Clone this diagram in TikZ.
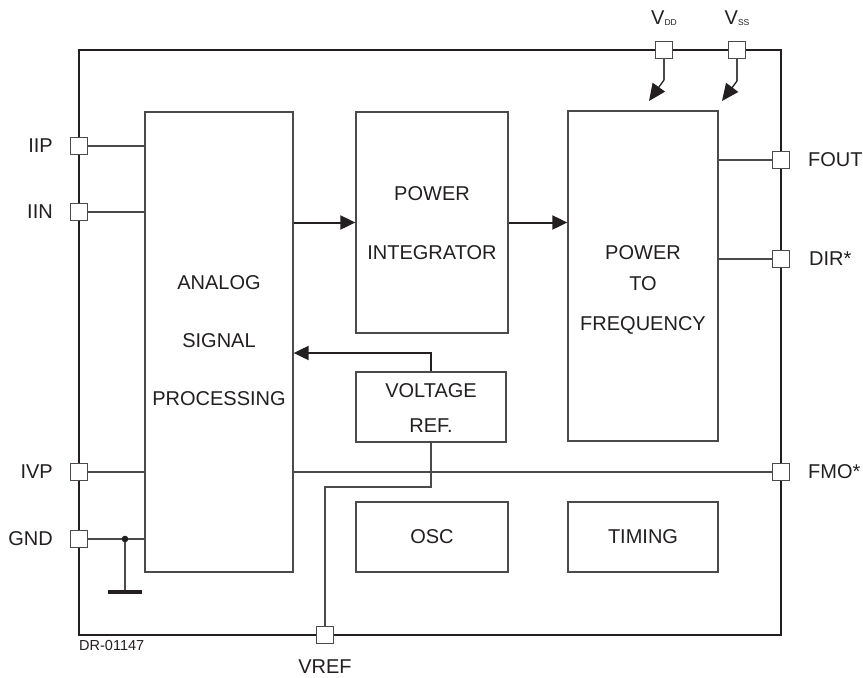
\documentclass[tikz,border=0pt]{standalone}
\usepackage{fontspec}
\setmainfont{Liberation Sans}
\usetikzlibrary{arrows.meta}
\definecolor{frame}{HTML}{231F20}
\definecolor{ln}{HTML}{4A4A4A}
\begin{document}
\begin{tikzpicture}[x=1pt,y=-1pt,
  blk/.style={draw=ln, line width=1.3pt, fill=white, inner sep=0pt},
  pin/.style={draw=ln, line width=1pt, fill=white, minimum size=17pt, inner sep=0pt},
  wire/.style={draw=ln, line width=1.3pt},
  arr/.style={draw=frame, line width=2pt, -{Triangle[length=15pt,width=14pt]}},
  txt/.style={font=\fontsize{20}{24}\selectfont, inner sep=0pt, text=frame},
  small/.style={font=\fontsize{14.5}{17}\selectfont, inner sep=0pt, text=frame}
]
\useasboundingbox (0,0) rectangle (863,678);
\fill[white] (0,0) rectangle (863,678);

% outer frame
\draw[frame, line width=2.4pt] (79,50) rectangle (781,635);

% blocks
\node[blk, minimum width=148pt, minimum height=460pt] (asp) at (219,342) {};
\node[blk, minimum width=152pt, minimum height=221pt] (pi) at (432,222.5) {};
\node[blk, minimum width=150pt, minimum height=330pt] (ptf) at (643,276) {};
\node[blk, minimum width=150pt, minimum height=70pt] (vr) at (431,407) {};
\node[blk, minimum width=152pt, minimum height=70pt] (osc) at (432,537) {};
\node[blk, minimum width=150pt, minimum height=70pt] (tim) at (643,537) {};

% block texts
\node[txt] (t1) at (219,283) {ANALOG};
\node[txt] (t2) at (219,341) {SIGNAL};
\node[txt] (t3) at (219,399) {PROCESSING};
\node[txt] (t4) at (432,194) {POWER};
\node[txt] (t5) at (432,253) {INTEGRATOR};
\node[txt] (t6) at (643,253) {POWER};
\node[txt] (t7) at (643,284) {TO};
\node[txt] (t8) at (643,325) {FREQUENCY};
\node[txt] (t9) at (431,391) {VOLTAGE};
\node[txt] (t10) at (431,426) {REF.};
\node[txt] (t11) at (432,537) {OSC};
\node[txt] (t12) at (643,537) {TIMING};

% pins
\node[pin] (iip) at (79,146) {};
\node[pin] (iin) at (79,212) {};
\node[pin] (ivp) at (79,472) {};
\node[pin] (gnd) at (79,539) {};
\node[pin] (fout) at (781,160) {};
\node[pin] (dir) at (781,259) {};
\node[pin] (fmo) at (781,472) {};
\node[pin] (vdd) at (664,50) {};
\node[pin] (vss) at (737,50) {};
\node[pin] (vref) at (325,635) {};

% pin labels
\node[txt, anchor=east] (liip) at (53,146) {IIP};
\node[txt, anchor=east] (liin) at (53,212) {IIN};
\node[txt, anchor=east] (livp) at (53,472) {IVP};
\node[txt, anchor=east] (lgnd) at (53,539) {GND};
\node[txt, anchor=west] (lfout) at (808,160) {FOUT};
\node[txt, anchor=west] (ldir) at (809,259) {DIR*};
\node[txt, anchor=west] (lfmo) at (808,472) {FMO*};
\node[txt] (lvref) at (325,667) {VREF};
\node[txt] (lvdd) at (664,18) {V\raisebox{-1pt}{\fontsize{8.5}{9}\selectfont DD}};
\node[txt] (lvss) at (737,18) {V\raisebox{-1pt}{\fontsize{8.5}{9}\selectfont SS}};
\node[small, anchor=west] (ldr) at (79,646) {DR-01147};

% wires to left pins
\draw[wire] (iip.east) -- (iip -| asp.west);
\draw[wire] (iin.east) -- (iin -| asp.west);
\draw[wire] (ivp.east) -- (ivp -| asp.west);
\draw[wire] (gnd.east) -- (gnd -| asp.west);

% ground symbol
\coordinate (gj) at (125,539);
\coordinate (gb) at (125,592);
\coordinate (gbl) at (108,592);
\coordinate (gbr) at (142,592);
\draw[wire] (gj) -- (gb);
\draw[frame, line width=3.5pt] (gbl) -- (gbr);
\fill[frame] (gj) circle (3.3pt);

% right pins
\draw[wire] (ptf.east |- fout) -- (fout.west);
\draw[wire] (ptf.east |- dir) -- (dir.west);
\draw[wire] (asp.east |- fmo) -- (fmo.west);

% signal arrows
\draw[arr] (asp.east |- pi.west) -- (pi.west);
\draw[arr] (pi.east) -- (pi.east -| ptf.west);
\draw[arr] (vr.north) -- (vr.north |- 0,353) -- (asp.east |- 0,353);

% VREF wire
\draw[wire] (vr.south) -- (vr.south |- 0,487) -- (vref |- 0,487) -- (vref.north);

% supply arrows
\coordinate (vddk) at (664,80);
\coordinate (vddt) at (649,101);
\coordinate (vssk) at (737,81);
\coordinate (vsst) at (722,101);
\draw[wire] (vdd.south) -- (vddk);
\draw[arr, line width=1.3pt, -{Triangle[length=17pt,width=15pt]}] (vddk) -- (vddt);
\draw[wire] (vss.south) -- (vssk);
\draw[arr, line width=1.3pt, -{Triangle[length=17pt,width=15pt]}] (vssk) -- (vsst);
\end{tikzpicture}
\end{document}
